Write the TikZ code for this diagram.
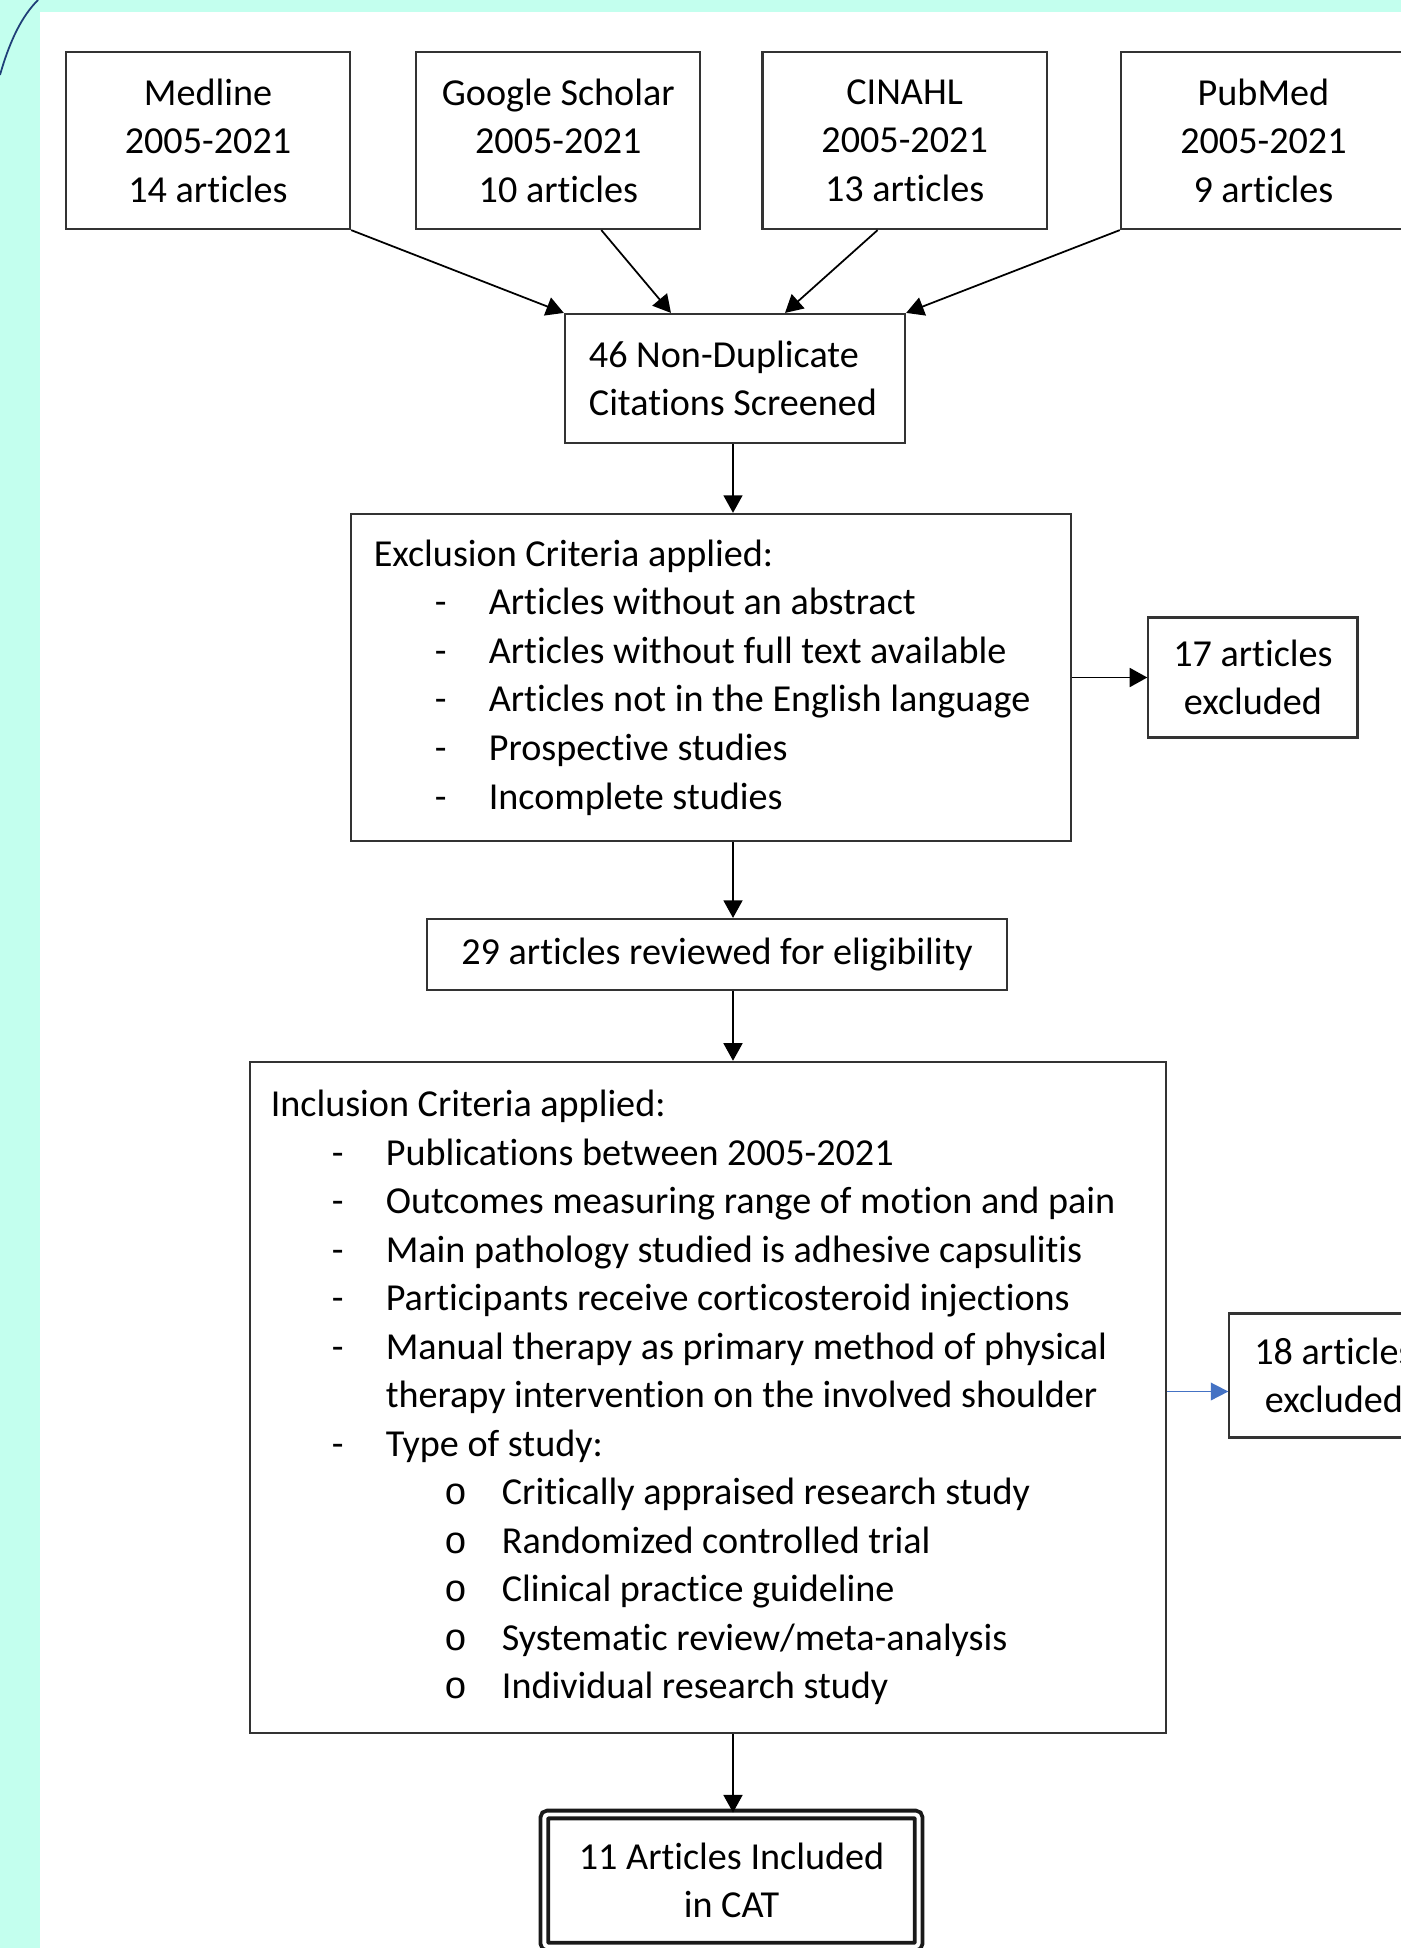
\documentclass[tikz,border=0pt]{standalone}
\usepackage{fontspec}
\setmainfont{Carlito}[Ligatures=NoCommon]
\newfontfamily\bulletfont{Liberation Mono}
\usetikzlibrary{arrows.meta,positioning,calc}
\definecolor{bgcyan}{HTML}{C3FFEE}
\definecolor{arcblue}{HTML}{1F3F77}
\definecolor{lineblue}{HTML}{4472C4}
\tikzset{
  box/.style = {rectangle, draw=black!80, line width=0.6pt, inner sep=0pt,
    align=center, text=black},
  listbox/.style = {box, align=flush left, inner xsep=0.23cm},
  finalbox/.style = {box, draw=black!90, double=white, line width=1.1pt,
    double distance=1.1pt, rounded corners=1pt},
  arrow/.style = {line width=0.5pt, -{Triangle[length=5pt, width=5.4pt]}},
  bluearrow/.style = {draw=lineblue, line width=0.5pt,
    -{Triangle[length=5pt, width=5pt, fill=lineblue]}}
}
\newcommand{\dashitem}{\hspace*{0.61cm}\makebox[0.54cm][l]{-}}
\newcommand{\contitem}{\hspace*{1.15cm}}
\newcommand{\circitem}{\hspace*{1.74cm}\makebox[0.57cm][l]{\bulletfont o}}

\begin{document}
\begin{tikzpicture}[x=0.01cm, y=-0.01cm, font=\fontsize{10.85}{13.8}\selectfont]

% page background
\useasboundingbox (0,0) rectangle (1401,1948);
\fill[bgcyan] (0,0) rectangle (1401,1948);
\fill[white] (40,12) rectangle (1401,1948);
\draw[arcblue, line width=0.5pt] (0,75) .. controls (10,40) and (22,16) .. (38,0);

% databases
\node[box, minimum width=2.84cm, minimum height=1.77cm] (med) at (208,140.5) {Medline\\2005-2021\\14 articles};
\node[box, minimum width=2.84cm, minimum height=1.77cm, right=0.64cm of med] (goog) {Google Scholar\\2005-2021\\10 articles};
\node[box, minimum width=2.84cm, minimum height=1.77cm, right=0.60cm of goog] (cin) {CINAHL\\2005-2021\\13 articles};
\node[box, minimum width=2.85cm, minimum height=1.77cm, right=0.72cm of cin] (pub) {PubMed\\2005-2021\\9 articles};

\node[box, align=flush left, inner xsep=0.24cm, text width=2.92cm, minimum height=1.29cm] (dup) at (735,378.5) {46 Non-Duplicate\\Citations Screened};
\coordinate (spine) at ([xshift=-0.02cm]dup.south);

\node[listbox, text width=6.74cm, minimum height=3.27cm] (excl) at (711,677.5) {Exclusion Criteria applied:\\
\dashitem Articles without an abstract\\
\dashitem Articles without full text available\\
\dashitem Articles not in the English language\\
\dashitem Prospective studies\\
\dashitem Incomplete studies};
\node[box, minimum width=2.09cm, minimum height=1.20cm, right=0.75cm of excl] (ex17) {17 articles\\excluded};

\node[box, minimum width=5.80cm, minimum height=0.71cm] (elig) at (717,954.5) {29 articles reviewed for eligibility};

\node[listbox, inner xsep=0.21cm, text width=8.74cm, minimum height=6.71cm] (incl) at (708,1397.5) {Inclusion Criteria applied:\\
\dashitem Publications between 2005-2021\\
\dashitem Outcomes measuring range of motion and pain\\
\dashitem Main pathology studied is adhesive capsulitis\\
\dashitem Participants receive corticosteroid injections\\
\dashitem Manual therapy as primary method of physical\\
\contitem therapy intervention on the involved shoulder\\
\dashitem Type of study:\\
\circitem Critically appraised research study\\
\circitem Randomized controlled trial\\
\circitem Clinical practice guideline\\
\circitem Systematic review/meta-analysis\\
\circitem Individual research study};
\node[box, minimum width=2.09cm, minimum height=1.24cm, right=0.61cm of incl, yshift=0.22cm] (ex18) {18 articles\\excluded};

\node[finalbox, minimum width=3.74cm, minimum height=1.32cm] (cat) at (731.5,1880.5) {11 Articles Included\\in CAT};

% connectors
\draw[arrow] (med.south east) -- (dup.north west);
\draw[arrow] ([xshift=0.43cm]goog.south) -- ([xshift=-0.64cm]dup.north);
\draw[arrow] ([xshift=-0.27cm]cin.south) -- ([xshift=0.50cm]dup.north);
\draw[arrow] (pub.south west) -- (dup.north east);
\draw[arrow] (spine) -- (spine |- excl.north);
\draw[arrow] (excl.east) -- (ex17.west);
\draw[arrow] (spine |- excl.south) -- (spine |- elig.north);
\draw[arrow] (spine |- elig.south) -- (spine |- incl.north);
\draw[bluearrow] ([yshift=-0.16cm]incl.east |- ex18.west) -- ([yshift=-0.16cm]ex18.west);
\draw[arrow] (spine |- incl.south) -- (spine |- cat.north);

\end{tikzpicture}
\end{document}
